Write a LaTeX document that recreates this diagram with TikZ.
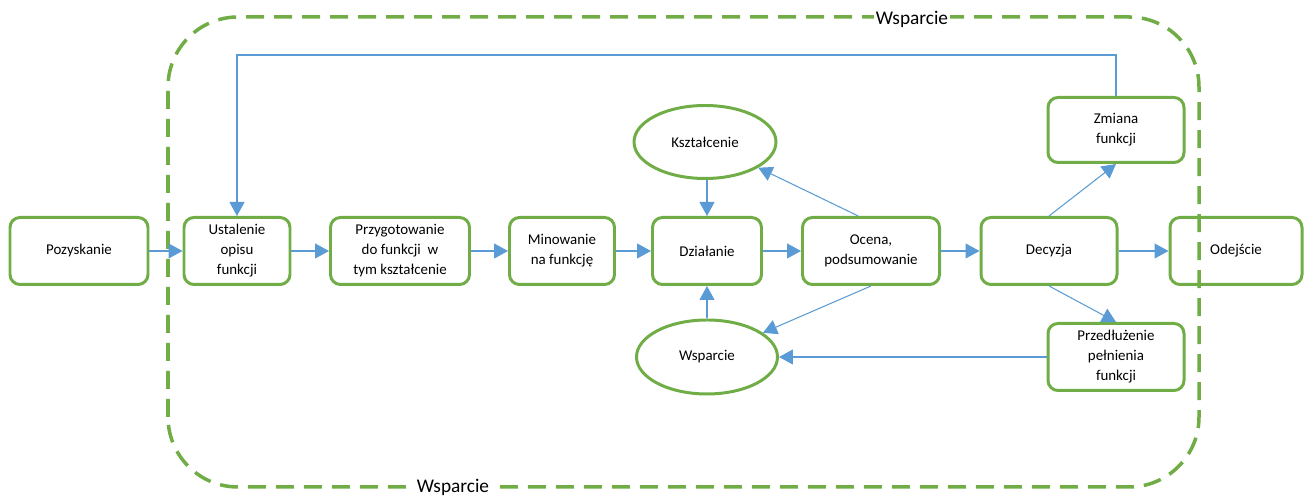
\documentclass[tikz,border=0pt]{standalone}
\usepackage{fontspec}
\setmainfont{Carlito}
\usepackage{tikz}
\usetikzlibrary{shapes,arrows.meta,positioning,calc}

\definecolor{boxgreen}{HTML}{70AD47}
\definecolor{lineblue}{HTML}{5B9BD5}

\begin{document}
\begin{tikzpicture}[
    font=\fontsize{8.5}{11.4}\selectfont,
    stage/.style={rectangle, rounded corners=0.2cm, draw=boxgreen, line width=1.7pt, minimum height=1.34cm, align=center},
    extra/.style={ellipse, draw=boxgreen, line width=1.7pt, minimum width=2.84cm, minimum height=1.46cm, align=center},
    flow/.style={-{Triangle[length=0.28cm,width=0.3cm]}, draw=lineblue, line width=0.6pt},
    support/.style={draw=boxgreen, line width=2pt, dash pattern=on 0.36cm off 0.2cm, rounded corners=1.4cm},
    framelabel/.style={fill=white, inner sep=1pt, font=\fontsize{11}{13}\selectfont}
]
\useasboundingbox (0,0) rectangle (26.14,9.94);

% Main row
\node[stage, minimum width=2.76cm] (pozyskanie) at (1.58,4.92) {Pozyskanie};
\node[stage, minimum width=2.12cm] (ustalenie) at (4.74,4.92) {Ustalenie\\opisu\\funkcji};
\node[stage, minimum width=2.78cm] (przygotowanie) at (8.00,4.92) {Przygotowanie\\do funkcji~~w\\tym kształcenie};
\node[stage, minimum width=2.10cm] (minowanie) at (11.24,4.92) {Minowanie\\na funkcję};
\node[stage, minimum width=2.18cm] (dzialanie) at (14.14,4.92) {Działanie};
\node[stage, minimum width=2.74cm] (ocena) at (17.42,4.92) {Ocena,\\podsumowanie};
\node[stage, minimum width=2.72cm] (decyzja) at (20.98,4.92) {Decyzja};
\node[stage, minimum width=2.64cm] (odejscie) at (24.72,4.92) {Odejście};

% Side branches
\node[stage, minimum width=2.72cm, minimum height=1.30cm] (zmiana) at (22.32,7.34) {Zmiana\\funkcji};
\node[stage, minimum width=2.72cm] (przedluzenie) at (22.32,2.80) {Przedłużenie\\pełnienia\\funkcji};
\node[extra] (ksztalcenie) at (14.10,7.10) {Kształcenie};
\node[extra, minimum width=2.82cm, minimum height=1.48cm] (wsparcie) at (14.14,2.80) {Wsparcie};

% Outer support frame
\draw[support] (3.36,0.2) rectangle (23.98,9.6);
\node[framelabel] (top_label) at (18.24,9.56) {Wsparcie};
\node[framelabel] (bottom_label) at (9.06,0.2) {Wsparcie};

% Connections
\draw[flow] (pozyskanie) -- (ustalenie);
\draw[flow] (ustalenie) -- (przygotowanie);
\draw[flow] (przygotowanie) -- (minowanie);
\draw[flow] (minowanie) -- (dzialanie);
\draw[flow] (dzialanie) -- (ocena);
\draw[flow] (ocena) -- (decyzja);
\draw[flow] (decyzja) -- (odejscie);

\draw[flow] (ksztalcenie.south -| dzialanie.north) -- (dzialanie.north);
\draw[flow] (wsparcie.north -| dzialanie.south) -- (dzialanie.south);
\draw[flow] (ocena.110) -- (ksztalcenie);
\draw[flow] (ocena.south) -- (wsparcie);
\draw[flow] (decyzja.north) -- (zmiana.south);
\draw[flow] (decyzja.south) -- (przedluzenie.north);
\draw[flow] (przedluzenie) -- (wsparcie);

% Return path
\draw[flow] (zmiana.north) -- ++(0,0.82) -| (ustalenie.north);

\end{tikzpicture}
\end{document}
